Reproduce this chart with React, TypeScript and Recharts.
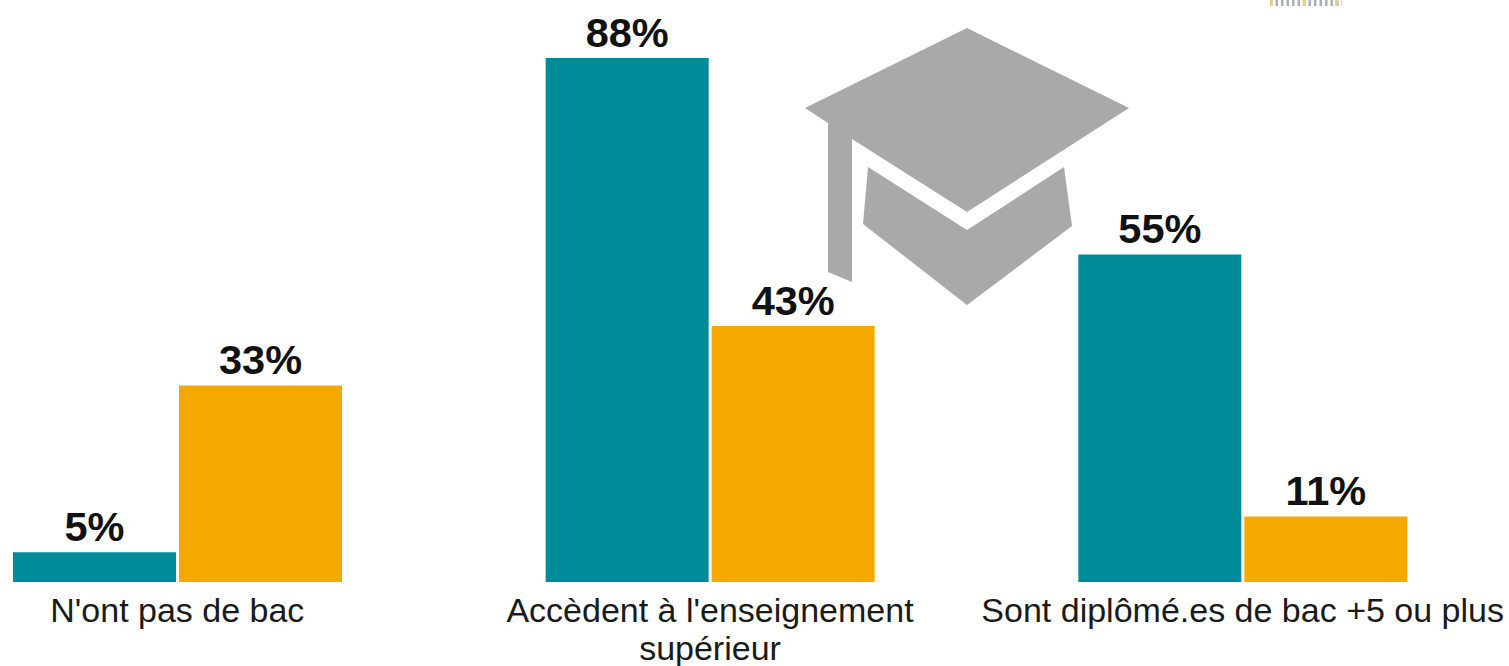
import { BarChart, Bar, XAxis, YAxis, LabelList } from "recharts";

const categories = [
  "N'ont pas de bac",
  "Accèdent à l'enseignement supérieur",
  "Sont diplômé.es de bac +5 ou plus",
];
const tealValues = [5, 88, 55];
const amberValues = [33, 43, 11];

const data = categories.map((name, i) => ({
  name,
  teal: tealValues[i],
  amber: amberValues[i],
}));

const TEAL = "#008b98";
const AMBER = "#f5a800";
const CAP = "#a9a9a9";
const FONT = "'Liberation Sans', Arial, sans-serif";

// the long label breaks on two lines in the original
function CategoryTick({ x, y, payload }: any) {
  const lines =
    payload.value === categories[1]
      ? ["Accèdent à l'enseignement", "supérieur"]
      : [payload.value];
  return (
    <text x={x} y={y} textAnchor="middle" fontFamily={FONT} fontSize={34} fill="#1a1a1a">
      {lines.map((line: string, i: number) => (
        <tspan key={line} x={x} y={y + 32 + i * 38}>
          {line}
        </tspan>
      ))}
    </text>
  );
}

const labelStyle = { fontFamily: FONT, fontSize: 41.5, fontWeight: 700, fill: "#111" };

export default function App() {
  return (
    <div
      style={{
        position: "absolute",
        left: 0,
        top: 0,
        width: 1509,
        height: 666,
        overflow: "hidden",
        background: "#fff",
      }}
    >
      <div style={{ position: "absolute", left: -89, top: 0 }}>
        <BarChart
          width={1598}
          height={666}
          data={data}
          margin={{ top: 46, right: 0, bottom: 0, left: 0 }}
          barSize={163}
          barGap={3}
        >
          <YAxis hide domain={[0, 90]} />
          <XAxis
            dataKey="name"
            height={84}
            interval={0}
            axisLine={false}
            tickLine={false}
            tick={<CategoryTick />}
          />
          <Bar dataKey="teal" fill={TEAL} isAnimationActive={false}>
            <LabelList dataKey="teal" position="top" offset={11} formatter={(v: any) => `${v}%`} style={labelStyle} />
          </Bar>
          <Bar dataKey="amber" fill={AMBER} isAnimationActive={false}>
            <LabelList dataKey="amber" position="top" offset={11} formatter={(v: any) => `${v}%`} style={labelStyle} />
          </Bar>
        </BarChart>
      </div>
      {/* graduation cap + the cut-off dotted strip at the top right */}
      <svg width={1509} height={666} style={{ position: "absolute", left: 0, top: 0, pointerEvents: "none" }}>
        <polygon
          fill={CAP}
          points="967,28 1129,108 967,212 852,139 852,282 828,272 828,123 805,108"
        />
        <polygon fill={CAP} points="868,167 967,230 1064,167 1072,226 967,305 863,224" />
        <line x1={1270} y1={3} x2={1342} y2={3} stroke="#a9afb9" strokeWidth={6} strokeDasharray="2.5 3" />
        <line x1={1270} y1={3} x2={1342} y2={3} stroke="#f0d080" strokeWidth={6} strokeDasharray="2.5 30" />
      </svg>
    </div>
  );
}
